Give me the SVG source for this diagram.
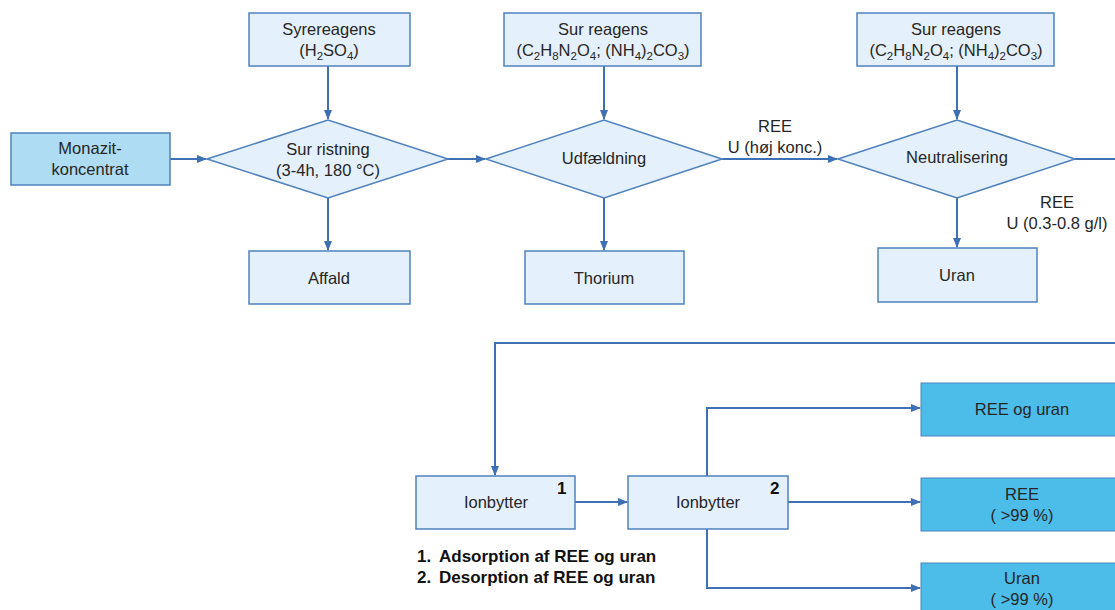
<svg xmlns="http://www.w3.org/2000/svg" width="1115" height="610" viewBox="0 0 1115 610">
<style>
.box{fill:#e4f0fb;stroke:#4f81bd;stroke-width:1.5}
.dk{fill:#aedcf3;stroke:#4f81bd;stroke-width:1.5}
.out{fill:#4bbde8;stroke:#4f81bd;stroke-width:1}
.t{font-family:"Liberation Sans",Arial,sans-serif;font-size:16.5px;fill:#262626;text-anchor:middle}
.b{font-family:"Liberation Sans",Arial,sans-serif;font-size:17px;font-weight:bold;fill:#111}
.sub{font-size:11.5px}
.c{fill:none;stroke:#3f70b6;stroke-width:2}
</style>
<defs>
<marker id="ah" markerWidth="10" markerHeight="10" refX="9" refY="4" orient="auto" markerUnits="userSpaceOnUse">
<path d="M0,0 L10,4 L0,8 Z" fill="#3f70b6"/>
</marker>
</defs>
<rect width="1115" height="610" fill="#fff"/>
<g id="connectors">
<line class="c" x1="170" y1="159" x2="206" y2="159" marker-end="url(#ah)"/>
<line class="c" x1="328" y1="66" x2="328" y2="119" marker-end="url(#ah)"/>
<line class="c" x1="328" y1="198" x2="328" y2="250" marker-end="url(#ah)"/>
<line class="c" x1="446" y1="159" x2="485" y2="159" marker-end="url(#ah)"/>
<line class="c" x1="604" y1="66" x2="604" y2="119" marker-end="url(#ah)"/>
<line class="c" x1="604" y1="198" x2="604" y2="250" marker-end="url(#ah)"/>
<line class="c" x1="722" y1="159" x2="837" y2="159" marker-end="url(#ah)"/>
<line class="c" x1="957" y1="66" x2="957" y2="119" marker-end="url(#ah)"/>
<line class="c" x1="957" y1="198" x2="957" y2="247" marker-end="url(#ah)"/>
<line class="c" x1="1075" y1="159" x2="1115" y2="159"/>
<polyline class="c" points="1115,343 495,343 495,475" marker-end="url(#ah)"/>
<line class="c" x1="575" y1="502" x2="627" y2="502" marker-end="url(#ah)"/>
<polyline class="c" points="707,476 707,408 920,408" marker-end="url(#ah)"/>
<line class="c" x1="788" y1="502" x2="920" y2="502" marker-end="url(#ah)"/>
<polyline class="c" points="707,529 707,588 920,588" marker-end="url(#ah)"/>
</g>
<g id="monazit">
<rect class="dk" x="11" y="133" width="159" height="52"/>
<text class="t" x="90" y="154">Monazit-</text>
<text class="t" x="90" y="175">koncentrat</text>
</g>
<g id="syrereagens">
<rect class="box" x="249" y="13" width="161" height="53"/>
<text class="t" x="329" y="35">Syrereagens</text>
<text class="t" x="329" y="56">(H<tspan class="sub" dy="4">2</tspan><tspan dy="-4">SO</tspan><tspan class="sub" dy="4">4</tspan><tspan dy="-4">)</tspan></text>
</g>
<g id="ristning">
<polygon class="box" points="207,159 328,120 448,159 328,198"/>
<text class="t" x="328" y="155">Sur ristning</text>
<text class="t" x="328" y="176">(3-4h, 180 °C)</text>
</g>
<g id="affald">
<rect class="box" x="249" y="251" width="161" height="53"/>
<text class="t" x="329" y="284">Affald</text>
</g>
<g id="reagens2">
<rect class="box" x="504" y="13" width="197" height="53"/>
<text class="t" x="603" y="35">Sur reagens</text>
<text class="t" x="603" y="56">(C<tspan class="sub" dy="4">2</tspan><tspan dy="-4">H</tspan><tspan class="sub" dy="4">8</tspan><tspan dy="-4">N</tspan><tspan class="sub" dy="4">2</tspan><tspan dy="-4">O</tspan><tspan class="sub" dy="4">4</tspan><tspan dy="-4">; (NH</tspan><tspan class="sub" dy="4">4</tspan><tspan dy="-4">)</tspan><tspan class="sub" dy="4">2</tspan><tspan dy="-4">CO</tspan><tspan class="sub" dy="4">3</tspan><tspan dy="-4">)</tspan></text>
</g>
<g id="udfaeldning">
<polygon class="box" points="486,159 604,120 722,159 604,198"/>
<text class="t" x="604" y="164">Udfældning</text>
</g>
<g id="thorium">
<rect class="box" x="525" y="251" width="159" height="53"/>
<text class="t" x="604" y="284">Thorium</text>
</g>
<g id="label1">
<text class="t" x="775" y="132">REE</text>
<text class="t" x="775" y="153">U (høj konc.)</text>
</g>
<g id="reagens3">
<rect class="box" x="857" y="13" width="197" height="53"/>
<text class="t" x="956" y="35">Sur reagens</text>
<text class="t" x="956" y="56">(C<tspan class="sub" dy="4">2</tspan><tspan dy="-4">H</tspan><tspan class="sub" dy="4">8</tspan><tspan dy="-4">N</tspan><tspan class="sub" dy="4">2</tspan><tspan dy="-4">O</tspan><tspan class="sub" dy="4">4</tspan><tspan dy="-4">; (NH</tspan><tspan class="sub" dy="4">4</tspan><tspan dy="-4">)</tspan><tspan class="sub" dy="4">2</tspan><tspan dy="-4">CO</tspan><tspan class="sub" dy="4">3</tspan><tspan dy="-4">)</tspan></text>
</g>
<g id="neutralisering">
<polygon class="box" points="838,159 957,120 1075,159 957,198"/>
<text class="t" x="957" y="163">Neutralisering</text>
</g>
<g id="uran">
<rect class="box" x="878" y="248" width="159" height="54"/>
<text class="t" x="957" y="281">Uran</text>
</g>
<g id="label2">
<text class="t" x="1057" y="208">REE</text>
<text class="t" x="1057" y="229">U (0.3-0.8 g/l)</text>
</g>
<g id="ion1">
<rect class="box" x="416" y="476" width="159" height="53"/>
<text class="t" x="496" y="508">Ionbytter</text>
<text class="b" x="557" y="494">1</text>
</g>
<g id="ion2">
<rect class="box" x="628" y="476" width="160" height="53"/>
<text class="t" x="708" y="508">Ionbytter</text>
<text class="b" x="770" y="494">2</text>
</g>
<g id="legend">
<text class="b" x="417" y="562">1.</text>
<text class="b" x="439" y="562">Adsorption af REE og uran</text>
<text class="b" x="417" y="583">2.</text>
<text class="b" x="439" y="583">Desorption af REE og uran</text>
</g>
<g id="out1">
<rect class="out" x="921" y="383" width="205" height="53"/>
<text class="t" x="1022" y="415">REE og uran</text>
</g>
<g id="out2">
<rect class="out" x="921" y="478" width="205" height="53"/>
<text class="t" x="1022" y="500">REE</text>
<text class="t" x="1022" y="521">( &gt;99 %)</text>
</g>
<g id="out3">
<rect class="out" x="921" y="563" width="205" height="60"/>
<text class="t" x="1022" y="584">Uran</text>
<text class="t" x="1022" y="605">( &gt;99 %)</text>
</g>
</svg>
